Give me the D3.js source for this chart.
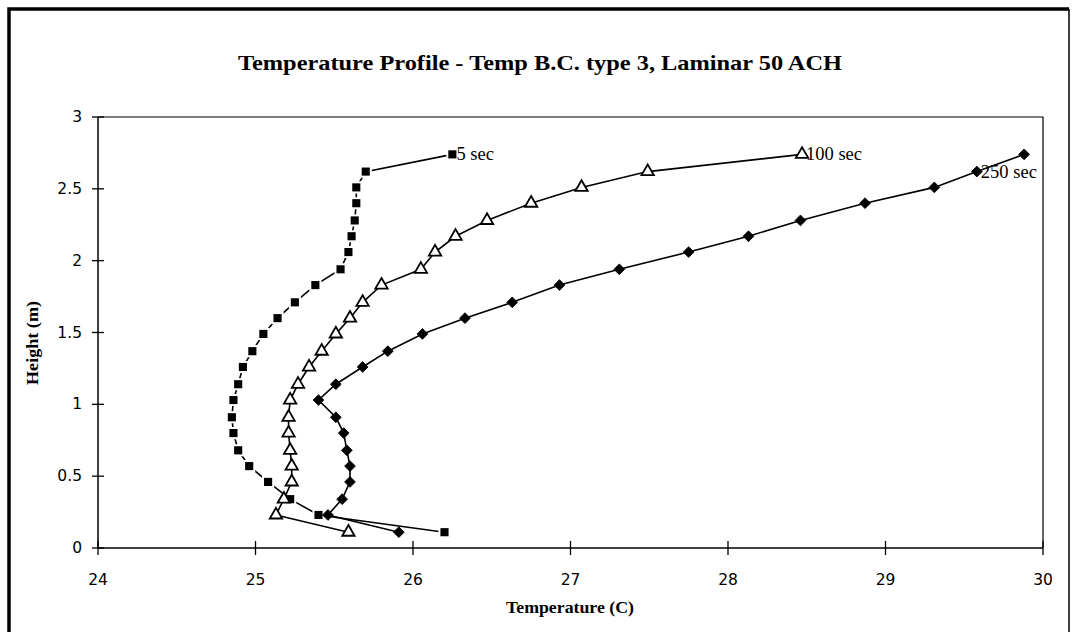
<!DOCTYPE html>
<html>
<head>
<meta charset="utf-8">
<script src="https://cdn.jsdelivr.net/npm/d3@7.9.0/dist/d3.min.js"></script>
<style>
  body { margin: 0; background: #fff; }
  svg { display: block; }
</style>
</head>
<body>
<svg id="chart" width="1075" height="632"></svg>
<script>
// heights of the measurement points (m), bottom to top
const heights = [0.11, 0.23, 0.34, 0.46, 0.57, 0.68, 0.80, 0.91, 1.03, 1.14, 1.26, 1.37,
                 1.49, 1.60, 1.71, 1.83, 1.94, 2.06, 2.17, 2.28, 2.40, 2.51, 2.62, 2.74];

// temperatures (C) per series, same order as heights
const temps5 = [26.20, 25.40, 25.22, 25.08, 24.96, 24.89, 24.86, 24.85, 24.86, 24.89, 24.92, 24.98,
                25.05, 25.14, 25.25, 25.38, 25.54, 25.59, 25.61, 25.63, 25.64, 25.64, 25.70, 26.25];
const temps100 = [25.59, 25.13, 25.18, 25.23, 25.23, 25.22, 25.21, 25.21, 25.22, 25.27, 25.34, 25.42,
                  25.51, 25.60, 25.68, 25.80, 26.05, 26.14, 26.27, 26.47, 26.75, 27.07, 27.49, 28.47];
const temps250 = [25.91, 25.46, 25.55, 25.60, 25.60, 25.58, 25.56, 25.51, 25.40, 25.51, 25.68, 25.84,
                  26.06, 26.33, 26.63, 26.93, 27.31, 27.75, 28.13, 28.46, 28.87, 29.31, 29.58, 29.88];

const xTicks = [24, 25, 26, 27, 28, 29, 30];
const yTicks = [0, 0.5, 1, 1.5, 2, 2.5, 3];

const series = [
  { name: "5 sec", values: temps5, marker: "square", labelAt: 23 },
  { name: "100 sec", values: temps100, marker: "triangle", labelAt: 23 },
  { name: "250 sec", values: temps250, marker: "diamond", labelAt: 22 }
];

const svg = d3.select("#chart");
const plot = { left: 98, right: 1043, top: 117, bottom: 548 };

const x = d3.scaleLinear().domain([24, 30]).range([plot.left, plot.right]);
const y = d3.scaleLinear().domain([0, 3]).range([plot.bottom, plot.top]);

const serif = "Liberation Serif, Times New Roman, serif";
const sans = "DejaVu Sans, sans-serif";

// outer frame
svg.append("path")
  .attr("d", "M9,632 L9,9 L1069,9")
  .attr("fill", "none")
  .attr("stroke", "#000")
  .attr("stroke-width", 3.5);
svg.append("line")
  .attr("x1", 1069).attr("x2", 1069)
  .attr("y1", 9).attr("y2", 632)
  .attr("stroke", "#000")
  .attr("stroke-width", 1.5);

// title
svg.append("text")
  .attr("x", 540)
  .attr("y", 70)
  .attr("text-anchor", "middle")
  .attr("font-family", serif)
  .attr("font-weight", "bold")
  .attr("font-size", 22)
  .attr("textLength", 604)
  .attr("lengthAdjust", "spacingAndGlyphs")
  .text("Temperature Profile - Temp B.C. type 3, Laminar 50 ACH");

// plot frame (top and right)
svg.append("path")
  .attr("d", `M${plot.left},${plot.top} H${plot.right} V${plot.bottom}`)
  .attr("fill", "none")
  .attr("stroke", "#000")
  .attr("stroke-width", 1.2);

// axes
const xAxis = svg.append("g").attr("transform", `translate(0,${plot.bottom})`);
xAxis.append("line")
  .attr("x1", plot.left).attr("x2", plot.right)
  .attr("stroke", "#000").attr("stroke-width", 1.5);
xAxis.selectAll(".tick")
  .data(xTicks)
  .join("line")
  .attr("x1", d => x(d)).attr("x2", d => x(d))
  .attr("y1", -7).attr("y2", 7)
  .attr("stroke", "#000").attr("stroke-width", 1.3);
xAxis.selectAll("text")
  .data(xTicks)
  .join("text")
  .attr("x", d => x(d))
  .attr("y", 37)
  .attr("text-anchor", "middle")
  .attr("font-family", sans)
  .attr("font-size", 15.5)
  .text(d => d);

const yAxis = svg.append("g").attr("transform", `translate(${plot.left},0)`);
yAxis.append("line")
  .attr("y1", plot.top).attr("y2", plot.bottom)
  .attr("stroke", "#000").attr("stroke-width", 1.5);
yAxis.selectAll(".tick")
  .data(yTicks)
  .join("line")
  .attr("y1", d => y(d)).attr("y2", d => y(d))
  .attr("x1", -6).attr("x2", 6)
  .attr("stroke", "#000").attr("stroke-width", 1.3);
yAxis.selectAll("text")
  .data(yTicks)
  .join("text")
  .attr("x", -16)
  .attr("y", d => y(d) + 5)
  .attr("text-anchor", "end")
  .attr("font-family", sans)
  .attr("font-size", 15.5)
  .text(d => d);

// axis titles
svg.append("text")
  .attr("x", 570)
  .attr("y", 613)
  .attr("text-anchor", "middle")
  .attr("font-family", serif)
  .attr("font-weight", "bold")
  .attr("font-size", 17)
  .attr("textLength", 128)
  .attr("lengthAdjust", "spacingAndGlyphs")
  .text("Temperature (C)");

svg.append("text")
  .attr("transform", "translate(38,343) rotate(-90)")
  .attr("text-anchor", "middle")
  .attr("font-family", serif)
  .attr("font-weight", "bold")
  .attr("font-size", 17)
  .attr("textLength", 84)
  .attr("lengthAdjust", "spacingAndGlyphs")
  .text("Height (m)");

// lines and markers
const line = d3.line()
  .x(d => x(d.t))
  .y(d => y(d.h));

const symbols = {
  square: d3.symbol().type(d3.symbolSquare).size(66),
  triangle: d3.symbol().type(d3.symbolTriangle).size(66),
  diamond: d3.symbol().type(d3.symbolSquare).size(58)
};

series.forEach(s => {
  const pts = s.values.map((t, i) => ({ t, h: heights[i] }));
  const g = svg.append("g");

  g.append("path")
    .datum(pts)
    .attr("d", line)
    .attr("fill", "none")
    .attr("stroke", "#000")
    .attr("stroke-width", 1.6);

  g.selectAll(".mk")
    .data(pts)
    .join("path")
    .attr("d", symbols[s.marker]())
    .attr("transform", d => `translate(${x(d.t)},${y(d.h)})` + (s.marker === "diamond" ? " rotate(45)" : ""))
    .attr("fill", s.marker === "triangle" ? "#fff" : "#000")
    .attr("stroke", s.marker === "square" ? "#fff" : "#000")
    .attr("stroke-width", s.marker === "square" ? 4 : (s.marker === "triangle" ? 1.8 : 0.8))
    .attr("paint-order", s.marker === "square" ? "stroke" : "normal");

  // series label
  const p = pts[s.labelAt];
  g.append("text")
    .attr("x", x(p.t) + 4)
    .attr("y", y(p.h) + 6)
    .attr("font-family", serif)
    .attr("font-size", 18.5)
    .text(s.name);
});
</script>
</body>
</html>
